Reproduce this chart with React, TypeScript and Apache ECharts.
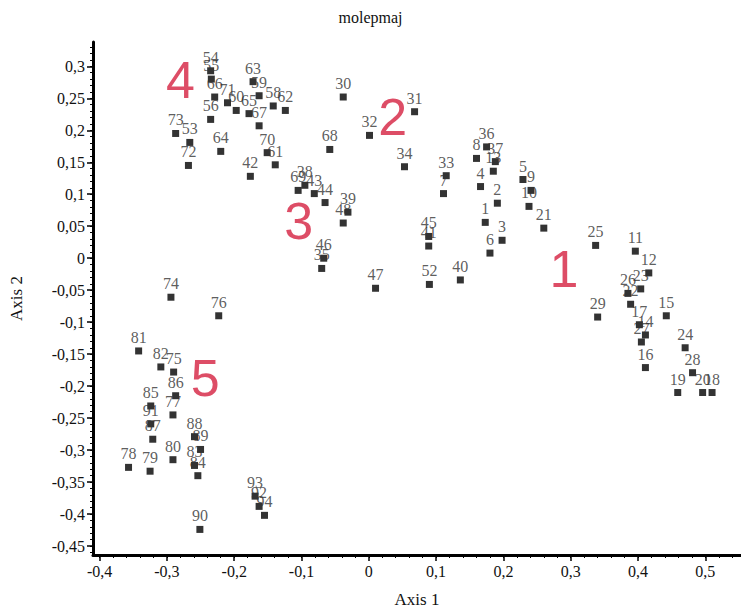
import React, { useEffect, useRef } from "react";
import * as echarts from "echarts";

const pointIds = [
  1, 2, 3, 4, 5, 6, 7, 8, 9, 10, 11, 12, 13, 14, 15, 16, 17, 18, 19, 20,
  21, 22, 23, 24, 25, 26, 27, 28, 29, 30, 31, 32, 33, 34, 35, 36, 37, 38, 39, 40,
  41, 42, 43, 44, 45, 46, 47, 48, 52, 53, 54, 55, 56, 58, 59, 60, 61, 62, 63, 64,
  65, 66, 67, 68, 69, 70, 71, 72, 73, 74, 75, 76, 77, 78, 79, 80, 81, 82, 83, 84,
  85, 86, 87, 88, 89, 90, 91, 92, 93, 94,
];
const axis1Values = [
  0.173, 0.191, 0.198, 0.166, 0.229, 0.18, 0.111, 0.16, 0.241, 0.238, 0.396, 0.416, 0.185, 0.411, 0.442, 0.411, 0.402, 0.51, 0.459, 0.496,
  0.26, 0.389, 0.404, 0.47, 0.337, 0.385, 0.405, 0.481, 0.34, -0.038, 0.068, 0.001, 0.115, 0.053, -0.07, 0.175, 0.188, -0.095, -0.031, 0.136,
  0.089, -0.176, -0.081, -0.065, 0.089, -0.067, 0.01, -0.038, 0.09, -0.266, -0.235, -0.234, -0.235, -0.142, -0.163, -0.197, -0.139, -0.124, -0.172, -0.22,
  -0.178, -0.229, -0.163, -0.058, -0.105, -0.151, -0.21, -0.268, -0.287, -0.294, -0.29, -0.223, -0.291, -0.357, -0.325, -0.291, -0.342, -0.309, -0.259, -0.254,
  -0.324, -0.287, -0.321, -0.259, -0.25, -0.251, -0.324, -0.163, -0.169, -0.155,
];
const axis2Values = [
  0.056, 0.086, 0.028, 0.112, 0.123, 0.008, 0.101, 0.156, 0.106, 0.081, 0.011, -0.023, 0.136, -0.12, -0.09, -0.171, -0.104, -0.21, -0.21, -0.21,
  0.047, -0.072, -0.048, -0.14, 0.02, -0.055, -0.131, -0.179, -0.092, 0.252, 0.229, 0.192, 0.129, 0.143, -0.016, 0.174, 0.151, 0.114, 0.072, -0.034,
  0.019, 0.128, 0.101, 0.087, 0.034, 0.0, -0.047, 0.055, -0.041, 0.181, 0.293, 0.28, 0.217, 0.238, 0.254, 0.231, 0.146, 0.231, 0.276, 0.167,
  0.226, 0.252, 0.207, 0.17, 0.106, 0.165, 0.243, 0.145, 0.195, -0.061, -0.178, -0.09, -0.245, -0.327, -0.333, -0.315, -0.145, -0.17, -0.324, -0.34,
  -0.231, -0.215, -0.283, -0.279, -0.299, -0.424, -0.259, -0.388, -0.372, -0.402,
];

const groupNames = ["1", "2", "3", "4", "5"];
const groupAxis1 = [0.29, 0.0355, -0.104, -0.28, -0.243];
const groupAxis2 = [-0.017, 0.221, 0.058, 0.279, -0.188];

const xTickValues = [-0.4, -0.3, -0.2, -0.1, 0, 0.1, 0.2, 0.3, 0.4, 0.5];
const yTickValues = [0.3, 0.25, 0.2, 0.15, 0.1, 0.05, 0, -0.05, -0.1, -0.15, -0.2, -0.25, -0.3, -0.35, -0.4, -0.45];

const SERIF = "serif";
const SANS = "Liberation Sans";

function fmt(v: number): string {
  return String(Math.round(v * 1000) / 1000).replace(".", ",");
}

function minorList(start: number, end: number, step: number): number[] {
  const out: number[] = [];
  const n = Math.round((end - start) / step);
  for (let i = 0; i <= n; i++) out.push(Math.round((start + i * step) * 1000) / 1000);
  return out;
}

export default function App() {
  const ref = useRef<HTMLDivElement>(null);
  useEffect(() => {
    document.body.style.margin = "0";
    if (!ref.current) return;
    const chart = echarts.init(ref.current, undefined, { renderer: "svg" });
    const xMin = -0.4098;
    const xMax = 0.553;
    const yMin = -0.464;
    const yMax = 0.338;
    const points = pointIds.map((id, i) => [axis1Values[i], axis2Values[i], String(id)]);
    const groups = groupNames.map((g, i) => [groupAxis1[i], groupAxis2[i], g]);
    const baseAxis = {
      type: "value",
      splitLine: { show: false },
    };
    chart.setOption({
      animation: false,
      backgroundColor: "#ffffff",
      textStyle: { fontFamily: SERIF },
      title: {
        text: "molepmaj",
        left: "center",
        top: 4,
        textStyle: { fontFamily: SERIF, fontSize: 16, fontWeight: "normal", color: "#111" },
      },
      grid: { left: 90, right: 0, top: 42, bottom: 56, containLabel: false },
      xAxis: [
        {
          ...baseAxis,
          min: xMin,
          max: xMax,
          name: "Axis 1",
          nameLocation: "middle",
          nameGap: 36,
          nameTextStyle: { fontFamily: SERIF, fontSize: 17, color: "#111" },
          axisLine: { show: true, onZero: false, lineStyle: { color: "#000", width: 3 } },
          axisTick: { show: true, customValues: xTickValues, length: 6, lineStyle: { color: "#000", width: 1.5 } },
          axisLabel: {
            show: true,
            customValues: xTickValues,
            formatter: (v: number) => fmt(v),
            fontFamily: SERIF,
            fontSize: 16,
            color: "#111",
            margin: 8,
          },
        },
        {
          ...baseAxis,
          min: xMin,
          max: xMax,
          position: "bottom",
          axisLine: { show: false, onZero: false },
          axisTick: { show: true, customValues: minorList(-0.4, 0.54, 0.02), length: 3, lineStyle: { color: "#000", width: 1 } },
          axisLabel: { show: false },
        },
      ],
      yAxis: [
        {
          ...baseAxis,
          min: yMin,
          max: yMax,
          name: "Axis 2",
          nameLocation: "middle",
          nameGap: 68,
          nameTextStyle: { fontFamily: SERIF, fontSize: 17, color: "#111" },
          axisLine: { show: true, onZero: false, lineStyle: { color: "#000", width: 3 } },
          axisTick: { show: true, customValues: yTickValues, length: 6, lineStyle: { color: "#000", width: 1.5 } },
          axisLabel: {
            show: true,
            customValues: yTickValues,
            formatter: (v: number) => fmt(v),
            fontFamily: SERIF,
            fontSize: 16,
            color: "#111",
            margin: 8,
          },
        },
        {
          ...baseAxis,
          min: yMin,
          max: yMax,
          position: "left",
          axisLine: { show: false, onZero: false },
          axisTick: { show: true, customValues: minorList(-0.46, 0.33, 0.01), length: 3, lineStyle: { color: "#000", width: 1 } },
          axisLabel: { show: false },
        },
      ],
      series: [
        {
          type: "scatter",
          xAxisIndex: 0,
          yAxisIndex: 0,
          symbol: "rect",
          symbolSize: 7,
          itemStyle: { color: "#000" },
          data: points,
          label: {
            show: true,
            position: "top",
            distance: 2,
            formatter: (p: any) => p.data[2],
            fontFamily: SERIF,
            fontSize: 16,
            color: "#333",
          },
          emphasis: { disabled: true },
        },
        {
          type: "scatter",
          xAxisIndex: 0,
          yAxisIndex: 0,
          symbolSize: 0,
          data: groups,
          label: {
            show: true,
            position: "inside",
            formatter: (p: any) => p.data[2],
            fontFamily: SANS,
            fontSize: 52,
            color: "#d42040",
          },
          emphasis: { disabled: true },
        },
      ],
    });
    return () => chart.dispose();
  }, []);
  return <div ref={ref} style={{ width: 741, height: 613 }} />;
}
